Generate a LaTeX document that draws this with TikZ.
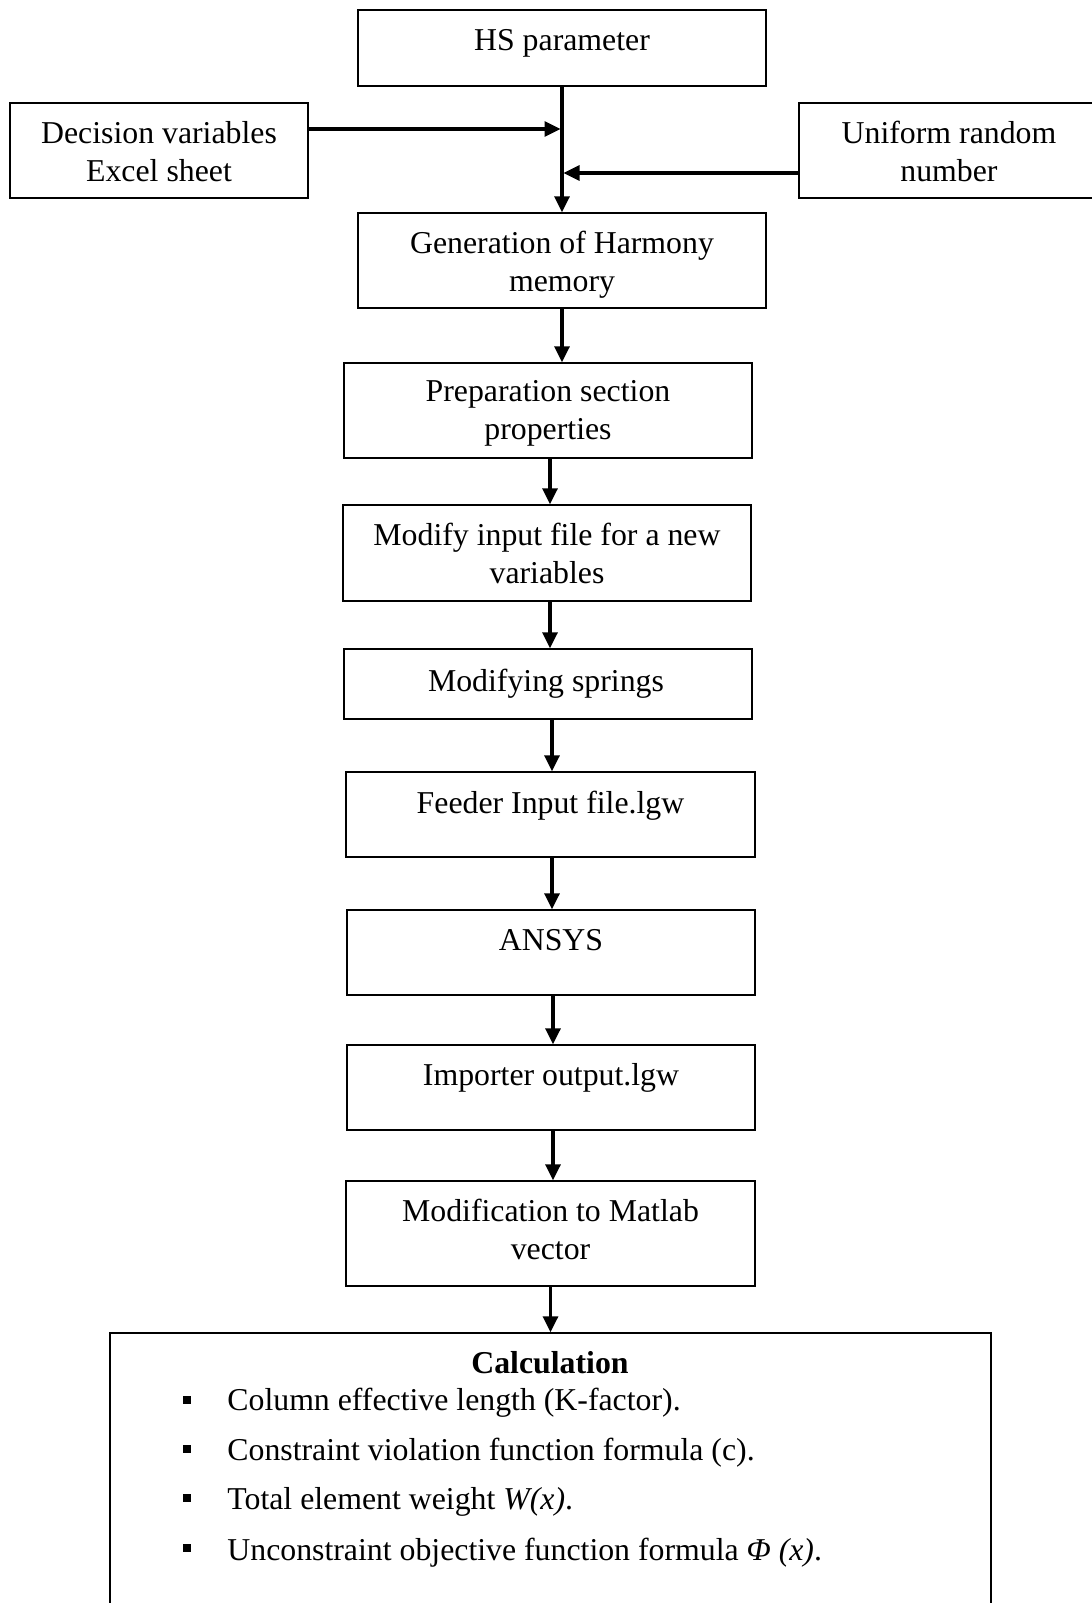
\documentclass[tikz,border=0pt]{standalone}
\usepackage{fontspec}
\setmainfont{Liberation Serif}
\usetikzlibrary{arrows.meta}
\begin{document}
\begin{tikzpicture}[x=0.5pt,y=-0.5pt,
  bx/.style 2 args={draw, line width=0.7pt, minimum width=#1, minimum height=#2, inner sep=0pt},
  txt/.style={font=\fontsize{15.9}{19}\selectfont, align=center, inner sep=0pt},
  arr/.style={line width=1.6pt, -{Triangle[length=8pt,width=7.5pt]}},
  bul/.style={fill=black, minimum size=3.8pt, inner sep=0pt}]
\useasboundingbox (0,0) rectangle (1092,1603);
% boxes
\node[bx={204pt}{38pt}] (HS) at (562,48) {};
\node[bx={149pt}{47.5pt}] (Dec) at (159,150.5) {};
\node[bx={150.5pt}{47.5pt}] (Uni) at (949.5,150.5) {};
\node[bx={204pt}{47.5pt}] (Gen) at (562,260.5) {};
\node[bx={204pt}{47.5pt}] (Prep) at (548,410.5) {};
\node[bx={204pt}{48pt}] (Mod) at (547,553) {};
\node[bx={204pt}{35pt}] (Spr) at (548,684) {};
\node[bx={204.5pt}{42.5pt}] (Feed) at (550.5,814.5) {};
\node[bx={204pt}{42.5pt}] (Ans) at (551,952.5) {};
\node[bx={204pt}{42.5pt}] (Imp) at (551,1087.5) {};
\node[bx={204.5pt}{52.5pt}] (Mdn) at (550.5,1233.5) {};
\node[bx={440.5pt}{158.5pt}] (Calc) at (550.5,1491.5) {};
% texts
\node[txt] (tHS) at (562,43) {HS parameter};
\node[txt] (tDec) at (159,152) {Decision variables\\Excel sheet};
\node[txt] (tUni) at (949,151) {Uniform random\\number};
\node[txt] (tGen) at (562,265) {Generation of Harmony\\memory};
\node[txt] (tPrep) at (548,413.5) {Preparation section\\properties};
\node[txt] (tMod) at (547,553) {Modify input file for a new\\variables};
\node[txt] (tSpr) at (546,684) {Modifying springs};
\node[txt] (tFeed) at (550.5,806) {Feeder Input file.lgw};
\node[txt] (tAns) at (551,940) {ANSYS};
\node[txt] (tImp) at (551,1078) {Importer output.lgw};
\node[txt] (tMdn) at (550.5,1229) {Modification to Matlab\\vector};
\node[txt, font=\fontsize{15.9}{19}\selectfont\bfseries] (tCalc) at (550,1363) {Calculation};
\node[bul] (b1) at (187,1400) {};
\node[bul] (b2) at (187,1449) {};
\node[bul] (b3) at (187,1498) {};
\node[bul] (b4) at (187,1548) {};
\node[txt, anchor=west] (l1) at (227,1403) {Column effective length (K-factor).};
\node[txt, anchor=west] (l2) at (227,1453) {Constraint violation function formula (c).};
\node[txt, anchor=west] (l3) at (227,1502) {Total element weight \textit{W(x)}.};
\node[txt, anchor=west] (l4) at (227,1553) {Unconstraint objective function formula \textit{Φ (x)}.};
% connectors
\coordinate (jd) at (560.5,129);
\coordinate (ju) at (563.5,173);
\draw[arr] (HS.south) -- (Gen.north);
\draw[arr] (Dec.east |- jd) -- (jd);
\draw[arr] (Uni.west |- ju) -- (ju);
\draw[arr] (Gen.south) -- (Gen.south |- Prep.north);
\draw[arr] ([xshift=1pt]Prep.south) -- ([xshift=1pt]Prep.south |- Mod.north);
\draw[arr] ([xshift=1.5pt]Mod.south) -- ([xshift=1.5pt]Mod.south |- Spr.north);
\draw[arr] ([xshift=2pt]Spr.south) -- ([xshift=2pt]Spr.south |- Feed.north);
\draw[arr] ([xshift=0.75pt]Feed.south) -- ([xshift=0.75pt]Feed.south |- Ans.north);
\draw[arr] ([xshift=1pt]Ans.south) -- ([xshift=1pt]Ans.south |- Imp.north);
\draw[arr] ([xshift=1pt]Imp.south) -- ([xshift=1pt]Imp.south |- Mdn.north);
\draw[arr] (Mdn.south) -- (Mdn.south |- Calc.north);
\end{tikzpicture}
\end{document}
